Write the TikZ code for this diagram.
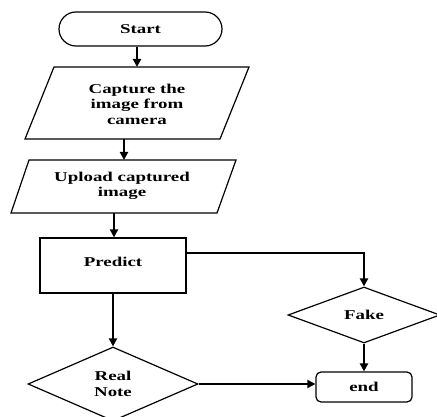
\documentclass[tikz,border=0pt]{standalone}
\usepackage{fontspec}
\setmainfont{Liberation Serif}[FakeStretch=1.4]
\usetikzlibrary{shapes.geometric,arrows.meta,calc}
\begin{document}
\begin{tikzpicture}[x=1pt,y=-1pt,
  box/.style={draw,line width=1.2pt},
  lbl/.style={font=\fontsize{13.5}{15.5}\selectfont\bfseries,align=center,inner sep=0pt},
  arr/.style={line width=2pt,-{Triangle[length=8pt,width=8pt]}},
  dia/.style={box,diamond,inner sep=0pt,aspect=2.3}]
\useasboundingbox (0,0) rectangle (437,417);
% Start
\node[box,rounded corners=17pt,minimum width=163pt,minimum height=34pt,lbl] (start) at (140.5,29) {Start};
% Parallelogram 1
\draw[box] (54,67) -- (249,67) -- (220,139) -- (25,139) -- cycle;
\node[lbl] (cap) at (137,104) {Capture the\\image from\\camera};
\coordinate (capT) at (137,67);
\coordinate (capB) at (124,139);
% Parallelogram 2
\draw[box] (29,160) -- (236,160) -- (217,213) -- (11,213) -- cycle;
\node[lbl] (upl) at (122,186) {Upload captured\\image};
\coordinate (uplT) at (124,160);
\coordinate (uplB) at (114,213);
% Predict
\node[box,minimum width=146pt,minimum height=55pt,lbl,text depth=8pt] (pred) at (113,265.5) {Predict};
% Fake
\node[dia,minimum width=152pt,minimum height=56pt,lbl] (fake) at (364,315) {Fake};
% end
\node[box,rounded corners=5pt,minimum width=96pt,minimum height=30pt,lbl] (end) at (364,387) {end};
% Real Note
\node[dia,minimum width=170pt,minimum height=74pt,lbl] (real) at (113,384) {Real\\Note};
% connectors
\draw[arr] (start.south -| capT) -- (capT);
\draw[arr] (capB) -- (uplT);
\draw[arr] (uplB) -- (uplB |- pred.north);
\draw[arr] (pred.east |- 0,253) -| (fake.north);
\draw[arr] (fake.south) -- (end.north);
\draw[arr] (real.north |- pred.south) -- (real.north);
\draw[arr] (real.east) -- (end.west |- real.east);
\end{tikzpicture}
\end{document}
